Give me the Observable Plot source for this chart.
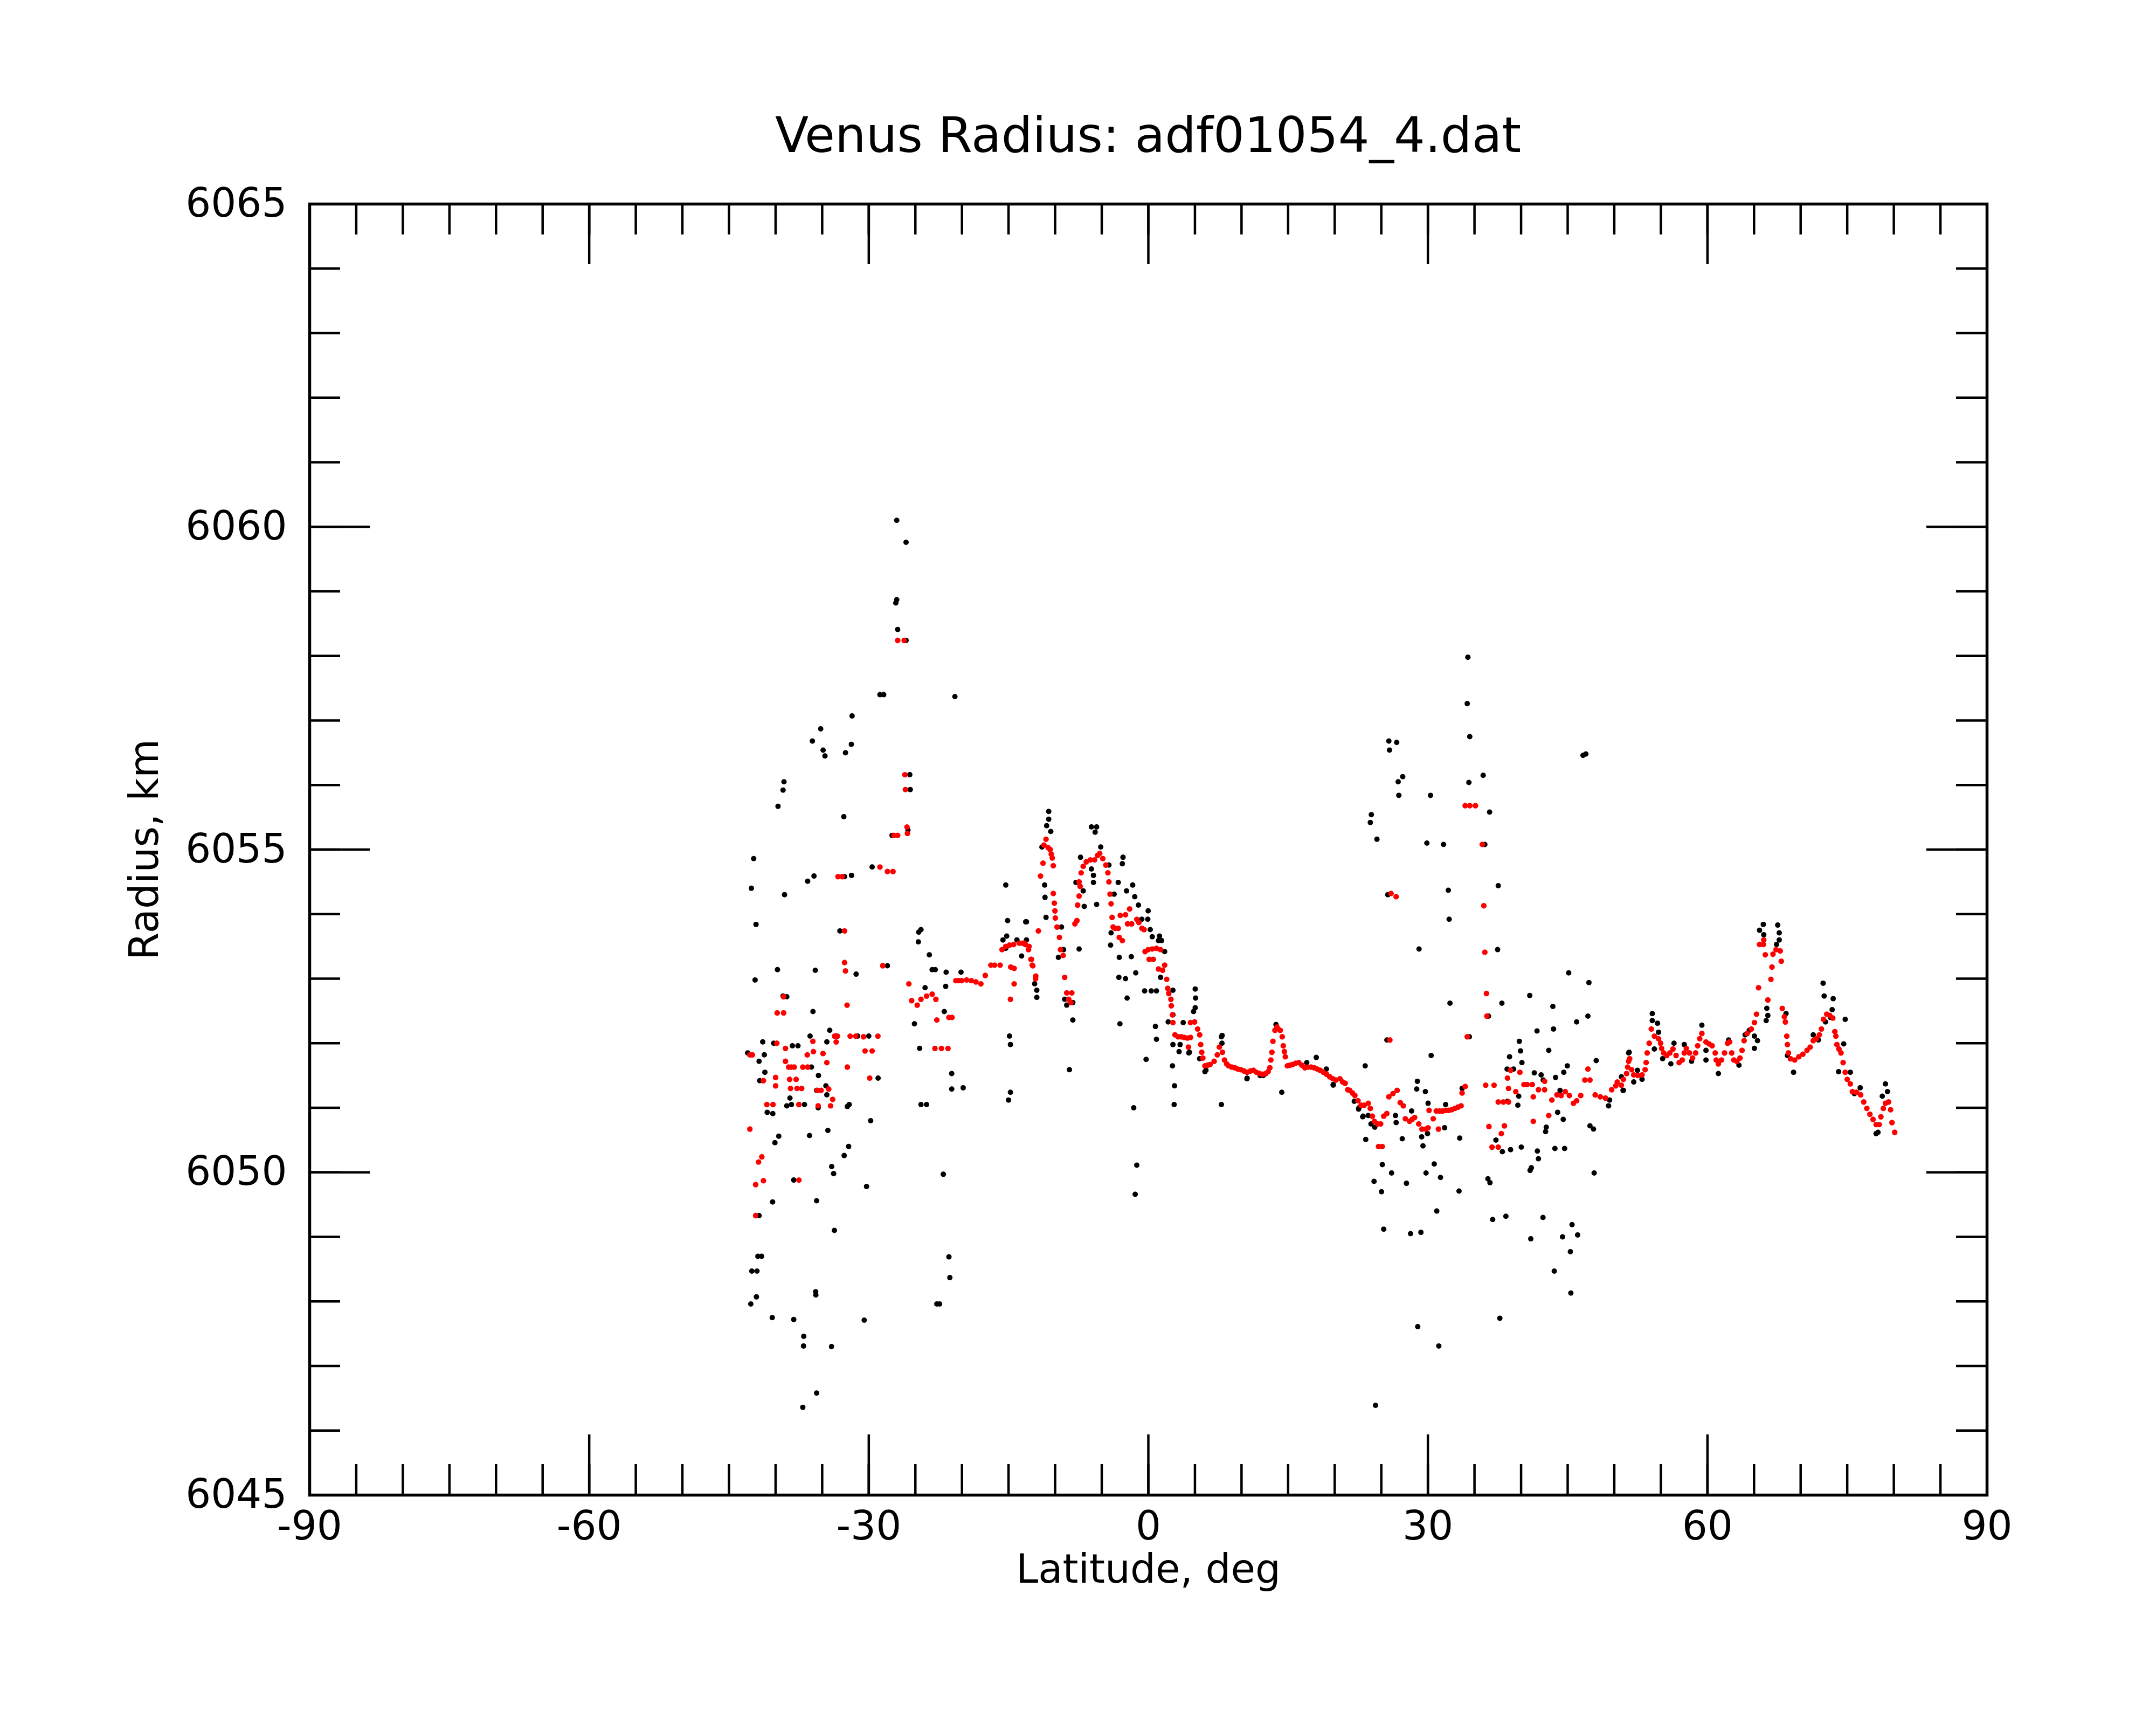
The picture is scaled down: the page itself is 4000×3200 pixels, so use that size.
<!DOCTYPE html>
<html><head><meta charset="utf-8">
<script src="https://cdn.jsdelivr.net/npm/d3@7"></script>
<script src="https://cdn.jsdelivr.net/npm/@observablehq/plot@0.6"></script>
<style>
body{margin:0;background:#fff;}
#title{width:4000px;height:300px;box-sizing:border-box;padding:205px 314px 0 574px;font-family:"DejaVu Sans";font-size:91px;line-height:1;text-align:center;color:#000;white-space:nowrap;}
</style></head>
<body>
<div id="title">Venus Radius: adf01054_4.dat</div>
<div id="chart"></div>
<script>
const titleText = "Venus Radius: adf01054_4.dat";
const xLabel = "Latitude, deg";
const yLabel = "Radius, km";
const xMajor = [-90, -60, -30, 0, 30, 60, 90];
const xMinor = d3.range(-85, 90, 5);
const yMajor = [6045, 6050, 6055, 6060, 6065];
const yMinor = d3.range(6046, 6065, 1);

// raw measurements (black): [latitude, radius]
const rawPoints = [
[-27.0,6060.1],[-26.0,6059.76],[-27.1,6058.82],[-27.0,6058.87],[-26.9,6058.41],[-26.0,6058.24],
[-28.8,6057.4],[-28.4,6057.4],[-20.76,6057.37],[-35.16,6056.87],[-36.05,6056.68],[-34.9,6056.54],[-34.7,6056.45],
[-31.79,6057.07],[-31.87,6056.63],[-32.5,6056.5],[-39.1,6056.05],[-39.2,6055.92],[-39.74,6055.67],
[-25.6,6056.16],[-25.55,6055.93],[-32.68,6055.51],[-27.5,6055.22],[-25.8,6055.3],
[-42.35,6054.86],[-42.6,6054.4],[-42.1,6053.84],[-42.2,6052.98],[-39.8,6053.14],[-36.56,6054.51],[-35.88,6054.59],[-39.04,6054.3],
[-32.6,6054.58],[-31.85,6054.6],[-29.64,6054.73],[-33.1,6053.74],[-35.74,6053.13],[-31.36,6053.07],[-28.0,6053.2],
[-24.64,6053.72],[-24.68,6053.57],[-15.3,6054.45],[-15.1,6053.9],[-15.2,6053.66],[-15.6,6053.6],[-15.3,6053.47],[-13.16,6053.88],[-14.1,6053.6],[-13.6,6053.35],
[-25.1,6052.3],[-24.54,6051.92],[-24.4,6051.05],[-23.8,6051.05],[-22.0,6049.97],[-21.4,6048.69],[-21.3,6048.37],[-22.7,6047.96],[-22.4,6047.96],
[-21.7,6053.1],[-21.75,6052.88],[-21.1,6051.53],[-21.1,6051.29],[-19.87,6051.31],[-20.1,6053.1],
[-23.2,6053.14],[-22.87,6053.14],[-23.5,6053.37],[-23.96,6052.86],[-21.9,6052.49],
[-14.9,6052.11],[-14.8,6051.98],[-14.8,6051.24],[-15.0,6051.12],
[-43.0,6051.85],[-41.77,6051.72],[-41.38,6052.02],[-41.21,6051.82],[-41.15,6051.55],[-41.7,6051.42],[-40.9,6050.93],[-40.3,6050.91],
[-39.2,6052.73],[-38.8,6052.72],[-40.2,6052.0],[-38.3,6051.05],[-38.8,6051.03],[-36.9,6051.05],[-38.46,6051.15],[-37.6,6051.96],[-38.2,6051.96],
[-36.15,6051.63],[-36.3,6052.11],[-35.99,6052.49],[-35.6,6051.27],[-34.6,6051.34],[-35.43,6051.0],[-34.5,6051.2],
[-34.19,6052.2],[-33.5,6052.11],[-34.5,6052.02],[-36.36,6050.57],[-40.07,6050.46],[-39.66,6050.56],[-34.39,6050.65],
[-32.64,6050.26],[-32.16,6050.4],[-33.98,6050.09],[-33.77,6049.98],[-31.2,6052.11],[-30.0,6052.11],[-29.0,6051.46],
[-32.1,6051.05],[-32.3,6051.02],[-29.8,6050.8],[-30.24,6049.78],[-30.49,6047.71],[-33.69,6049.1],[-35.6,6049.56],
[-35.7,6048.15],[-35.68,6048.1],[-36.98,6047.46],[-37.0,6047.31],[-34.0,6047.3],[-35.6,6046.58],[-37.08,6046.36],
[-38.05,6047.72],[-40.36,6047.75],[-40.32,6049.54],[-42.66,6047.96],[-42.06,6048.07],[-42.55,6048.47],[-42.0,6048.47],[-41.9,6048.7],[-41.5,6048.7],
[-41.77,6049.33],[-38.05,6049.88],[-24.4,6053.76],[-35.4,6051.5],
[-10.69,6055.59],[-10.69,6055.47],[-10.91,6055.37],[-10.47,6055.28],[-11.42,6055.04],[-11.13,6054.45],[-11.09,6054.26],[-10.98,6053.95],
[-9.32,6053.8],[-9.65,6053.33],[-9.1,6053.45],[-8.98,6052.68],[-8.76,6052.59],[-8.1,6052.63],[-8.1,6052.36],[-8.47,6051.59],
[-13.08,6053.88],[-13.08,6053.6],[-12.2,6052.92],[-11.97,6052.82],[-11.97,6052.71],
[-6.11,6055.35],[-5.55,6055.35],[-5.71,6055.27],[-5.11,6055.04],[-6.11,6054.7],[-5.89,6054.6],[-5.89,6054.49],[-5.55,6054.15],[-6.88,6054.12],[-7.43,6053.46],[-6.99,6054.36],[-7.77,6054.49],[-7.28,6054.88],[-4.23,6054.76],
[-2.72,6054.88],[-2.79,6054.78],[-3.23,6054.49],[-3.67,6054.31],[-2.34,6054.36],[-1.68,6054.45],[-1.46,6054.27],[-1.06,6054.14],[-4.0,6053.71],[-4.05,6053.52],[-3.12,6053.33],[-1.83,6053.34],[-3.16,6053.02],[-2.45,6053.0],[-1.35,6053.09],[-2.28,6052.7],[-3.05,6052.3],[-1.57,6051.0],[-1.24,6050.11],[-1.41,6049.66],
[-0.02,6054.05],[-0.06,6053.92],[-0.7,6053.92],[0.2,6053.76],[0.42,6053.65],[1.2,6053.66],[1.09,6053.59],[1.42,6053.59],[1.75,6053.42],[1.31,6053.02],[-0.4,6052.81],[0.31,6052.81],[0.87,6052.81],[-0.24,6051.75],[0.76,6052.26],[0.87,6052.06],[2.59,6051.65],[2.81,6051.34],[2.77,6051.05],[2.13,6052.33],[2.64,6052.44],[2.64,6052.82],[5.03,6052.84],[5.07,6052.7],[5.03,6052.55],[4.85,6052.49],[7.84,6051.05],[14.32,6051.24],[18.02,6051.78],[10.6,6051.46],[3.74,6052.32],[4.41,6051.86],[2.64,6051.98],[3.41,6051.98],[3.3,6051.87],[7.84,6052.1],[6.18,6051.58],[7.9,6052.0],[12.0,6051.5],[17.0,6051.7],
[4.34,6051.85],[5.5,6051.76],[6.07,6051.56],[7.92,6052.12],[10.58,6051.45],[12.32,6051.5],[13.7,6052.29],[19.1,6051.6],[19.84,6051.35],[22.56,6050.98],[23.0,6050.86],[23.89,6050.75],[29.33,6050.55],[29.96,6050.6],
[34.29,6057.98],[34.22,6057.26],[34.49,6056.75],[34.4,6056.04],[35.93,6056.15],[36.62,6055.58],[37.55,6054.44],[37.48,6053.45],[37.94,6052.62],[36.11,6055.08],[36.5,6052.42],[34.45,6052.1],
[25.81,6056.68],[26.65,6056.66],[25.88,6056.54],[27.3,6056.13],[26.81,6056.05],[26.88,6055.84],[23.93,6055.54],[23.82,6055.42],[24.53,6055.16],[30.28,6055.84],[29.89,6055.1],[31.68,6055.08],[32.19,6054.37],[32.28,6053.92],[29.05,6053.46],[32.37,6052.62],[30.35,6051.81],[23.27,6051.65],[25.7,6054.3],[25.6,6052.05],
[19.84,6051.36],[22.6,6051.0],[23.05,6050.87],[23.6,6050.88],[23.33,6050.51],[24.22,6049.86],[25.02,6049.7],[25.11,6050.12],[26.1,6049.99],[25.26,6049.12],[26.52,6050.88],[26.59,6050.77],[27.25,6050.52],[27.7,6049.83],[28.14,6049.05],[29.25,6049.07],[28.91,6047.61],[24.38,6046.39],[28.25,6050.95],[28.87,6051.41],[28.8,6051.29],[29.73,6051.25],[30.02,6051.07],[29.47,6050.41],[29.8,6049.99],[30.68,6050.13],[30.95,6049.4],[31.35,6049.92],[31.17,6047.31],[31.79,6050.69],[31.9,6051.05],[33.34,6049.71],[33.41,6050.53],[33.67,6051.3],[24.3,6050.7],[22.1,6051.1],
[38.76,6051.79],[38.5,6051.6],[39.2,6051.6],[39.81,6052.03],[39.94,6051.88],[40.09,6051.7],[40.93,6052.74],[41.71,6052.19],[41.42,6051.54],[42.15,6051.51],[42.37,6051.43],[43.41,6052.57],[43.48,6052.22],[42.97,6051.89],[43.7,6051.47],[44.18,6051.27],[44.58,6051.55],[44.96,6051.65],[45.11,6053.09],[45.96,6052.33],[47.28,6052.94],[47.17,6052.42],[48.06,6051.73],[46.65,6056.46],[46.95,6056.48],[51.6,6051.86],[38.54,6051.1],[39.65,6051.04],[39.75,6051.18],[37.99,6050.32],[38.87,6050.35],[40.02,6050.39],[41.75,6050.33],[41.86,6050.21],[40.97,6050.03],[41.1,6050.07],[42.63,6050.63],[42.7,6050.7],[43.92,6050.93],[44.52,6050.82],[43.63,6050.37],[44.67,6050.37],[47.39,6050.72],[47.77,6050.67],[47.84,6049.99],[49.39,6051.03],[45.47,6049.19],[46.07,6049.03],[44.45,6049.0],[45.29,6048.77],[45.34,6048.13],[43.56,6048.47],[42.35,6049.3],[41.04,6048.97],[38.37,6049.32],[36.95,6049.27],[37.72,6047.74],[36.44,6049.9],[36.66,6049.84],[50.94,6051.27],[49.5,6051.12],[37.3,6050.5],
[65.99,6053.84],[65.59,6053.75],[66.04,6053.68],[67.54,6053.83],[67.7,6053.71],[67.7,6053.6],[67.41,6053.53],[66.37,6052.54],[66.48,6052.43],[66.3,6052.35],[65.04,6052.11],[65.37,6052.04],[65.04,6051.92],[64.49,6052.2],[64.04,6052.13],[63.38,6051.66],[62.27,6052.05],[61.17,6051.53],[59.84,6051.74],[59.84,6051.89],[59.4,6052.28],[57.51,6051.98],[58.29,6051.72],[56.41,6052.0],[56.07,6051.68],[55.19,6051.76],[54.3,6051.91],[54.75,6052.17],[54.64,6052.31],[54.08,6052.46],[54.08,6052.35],[52.98,6051.44],[52.09,6051.4],[52.49,6051.58],[51.54,6051.85],[50.98,6051.27],[50.76,6051.48],[69.24,6051.55],[68.58,6051.81],[68.43,6052.46],[72.41,6052.93],[72.52,6052.73],[73.49,6052.69],[73.38,6052.52],[74.78,6052.37],[74.62,6051.99],[74.07,6051.56],[75.33,6051.55],[75.77,6051.22],[76.39,6051.31],[78.1,6050.6],[78.3,6050.62],[79.1,6051.37],[79.32,6051.25],[78.76,6051.18],[71.35,6052.13],[71.9,6052.05],[72.67,6052.33],[73.2,6052.4]
];

// filtered / smoothed measurements (red): [latitude, radius]
const smoothPoints = [
[-26.9,6058.24],[-26.2,6058.24],[-26.13,6056.16],[-26.07,6055.93],[-27.3,6055.22],[-26.9,6055.22],[-25.9,6055.35],[-25.85,6055.25],
[-33.3,6054.58],[-32.85,6054.58],[-28.8,6054.73],[-28.0,6054.66],[-27.4,6054.66],[-32.6,6053.74],[-32.6,6053.25],[-32.5,6053.12],[-28.5,6053.2],
[-25.7,6052.92],[-25.4,6052.66],[-24.8,6052.59],[-24.4,6052.68],[-23.8,6052.73],[-23.2,6052.76],[-22.8,6052.68],
[-20.66,6052.97],[-20.35,6052.97],[-20.04,6052.97],[-19.5,6052.98],[-19.0,6052.97],[-18.5,6052.95],[-17.97,6052.92],[-17.5,6053.05],[-16.9,6053.21],[-16.5,6053.21],[-15.9,6053.21],[-15.7,6053.45],[-15.3,6053.5],[-14.9,6053.52],[-14.46,6053.53],[-13.84,6053.55],[-13.5,6053.55],[-13.2,6053.53],[-12.8,6053.5],[-12.6,6053.3],[-12.4,6053.2],[-12.1,6053.0],
[-14.77,6053.18],[-14.4,6053.16],[-14.8,6052.68],[-14.4,6052.92],[-11.8,6053.74],
[-22.9,6051.92],[-22.2,6051.92],[-21.5,6051.92],[-21.07,6052.4],[-21.4,6052.4],[-22.7,6052.36],
[-42.76,6051.82],[-42.5,6051.82],[-41.31,6051.42],[-40.94,6051.05],[-40.28,6051.05],[-40.0,6051.47],[-40.0,6051.34],[-39.83,6052.47],[-39.14,6052.47],[-39.15,6052.72],[-39.87,6052.0],[-38.94,6051.92],[-38.94,6051.72],[-38.6,6051.63],[-38.3,6051.63],[-38.0,6051.63],[-38.5,6051.44],[-37.8,6051.44],[-38.4,6051.3],[-37.7,6051.3],[-37.2,6051.3],[-37.5,6051.05],
[-37.08,6051.63],[-36.56,6051.63],[-35.94,6051.87],[-36.6,6051.82],[-36.0,6052.03],[-35.53,6051.27],[-35.12,6051.27],[-35.43,6051.03],[-34.91,6051.84],[-34.5,6051.7],[-34.3,6051.29],[-33.88,6051.13],[-34.1,6051.03],[-33.67,6052.11],[-33.36,6052.11],[-33.5,6052.02],
[-32.3,6051.63],[-32.33,6052.59],[-32.0,6052.11],[-31.4,6052.11],[-30.57,6052.1],[-29.64,6051.88],[-30.4,6051.88],[-29.02,6052.11],[-29.9,6051.46],
[-42.14,6049.33],[-42.14,6049.81],[-41.3,6049.87],[-41.83,6050.16],[-41.48,6050.24],[-42.76,6050.67],[-37.5,6049.88],
[-10.98,6055.16],[-11.2,6055.07],[-10.75,6055.03],[-10.53,6055.0],[-10.42,6054.93],[-10.31,6054.87],[-10.2,6054.75],[-11.3,6054.79],[-11.57,6054.59],
[-10.2,6054.32],[-10.09,6054.17],[-10.02,6054.05],[-9.98,6053.94],[-9.8,6053.8],[-9.54,6053.64],[-9.43,6053.45],[-9.14,6053.36],[-8.98,6053.02],[-8.76,6052.78],[-8.21,6052.78],[-8.54,6052.68],[-8.32,6052.63],
[-13.3,6053.55],[-12.86,6053.45],[-12.53,6053.3],[-12.46,6053.21],[-12.08,6053.04],
[-7.88,6053.85],[-7.66,6053.9],[-7.59,6054.14],[-7.43,6054.28],[-7.32,6054.43],[-7.43,6054.5],[-7.21,6054.64],[-6.99,6054.74],[-6.66,6054.81],[-6.22,6054.84],[-5.77,6054.84],[-5.44,6054.91],[-5.22,6054.94],[-4.89,6054.86],[-4.56,6054.76],[-4.34,6054.64],[-4.23,6054.5],[-4.11,6054.31],[-4.0,6054.16],[-3.89,6053.95],[-3.78,6053.8],[-3.56,6053.78],[-3.23,6053.78],[-3.12,6053.64],[-2.79,6053.59],
[-3.01,6053.98],[-2.45,6053.99],[-2.01,6054.08],[-2.23,6053.85],[-1.79,6053.85],[-1.24,6053.92],[-1.02,6053.87],[-0.69,6053.78],[-0.46,6053.76],
[-0.35,6053.42],[-0.02,6053.45],[0.42,6053.46],[0.87,6053.47],[1.31,6053.45],[0.09,6053.3],[0.53,6053.3],[1.09,6053.15],[1.53,6053.13],[1.75,6053.21],[1.97,6052.99],[2.08,6052.85],[2.19,6052.77],[2.42,6052.68],[2.46,6052.58],[2.59,6052.44],[2.64,6052.32],[2.86,6052.13],[3.2,6052.1],[3.52,6052.1],[3.85,6052.09],[4.19,6052.08],[4.52,6052.09],[4.3,6051.94],[4.52,6052.32],[4.96,6052.33],[5.29,6052.22],[5.51,6052.13],[5.62,6051.98],[5.73,6051.86],[5.85,6051.77],[6.07,6051.65],[6.35,6051.66],[6.62,6051.67],[7.06,6051.72],[7.4,6051.82],[7.62,6051.94],[7.95,6051.86],[8.17,6051.74],[8.4,6051.68],[8.61,6051.65],[8.95,6051.63],[9.28,6051.62],[9.6,6051.6],[9.94,6051.59],[10.27,6051.57],[10.6,6051.55],[10.95,6051.57],[11.27,6051.58],[11.6,6051.55],[11.93,6051.53],[12.27,6051.52],[12.6,6051.53],[12.85,6051.56],[13.04,6051.62],[13.15,6051.74],[13.26,6051.86],[13.37,6052.03],[13.59,6052.2],[13.81,6052.25],[14.15,6052.2],[14.37,6052.1],[14.48,6051.96],[14.6,6051.87],[14.7,6051.79],[14.92,6051.65],[15.2,6051.66],[15.47,6051.67],[15.8,6051.69],[16.14,6051.7],[16.47,6051.66],[16.8,6051.62],[17.13,6051.63],[17.47,6051.63],[17.8,6051.62],[18.13,6051.6],[18.45,6051.58],[18.79,6051.55],[19.12,6051.52],[19.46,6051.48],[19.8,6051.45],[20.12,6051.43],[20.56,6051.45],[20.85,6051.4],[21.12,6051.38],[21.4,6051.28],
[34.0,6055.68],[35.1,6055.68],[34.5,6055.68],[35.84,6055.08],[36.0,6054.13],[36.11,6053.41],[36.28,6052.77],[36.33,6052.42],[34.22,6052.1],[26.04,6054.32],[26.59,6054.27],[25.92,6052.05],
[21.61,6051.27],[21.9,6051.23],[22.16,6051.19],[22.5,6051.11],[22.83,6051.04],[23.16,6051.04],[23.6,6051.07],[23.82,6050.99],[24.04,6050.87],[24.26,6050.79],[24.6,6050.75],[24.93,6050.75],[25.26,6050.87],[25.59,6050.91],[24.7,6050.4],[25.1,6050.4],[25.81,6051.17],[26.25,6051.22],[26.7,6051.27],[27.03,6051.08],[27.36,6051.03],[27.58,6050.83],[28.03,6050.79],[28.3,6050.82],[28.58,6050.85],[29.02,6050.75],[29.36,6050.67],[29.8,6050.67],[30.02,6050.69],[30.13,6050.96],[30.57,6050.83],[31.13,6050.67],[30.9,6050.95],[31.25,6050.95],[31.57,6050.95],[31.9,6050.96],[32.23,6050.96],[32.55,6050.97],[32.9,6050.99],[33.23,6051.01],[33.56,6051.03],[33.67,6051.23],[34.0,6051.33],
[36.2,6051.35],[37.1,6051.35],[36.55,6050.71],[36.88,6050.39],[37.55,6050.39],[37.88,6050.6],[38.21,6050.72],[37.55,6051.09],[38.1,6051.09],[38.65,6051.09],[38.65,6051.3],[38.54,6051.46],[38.87,6051.58],[39.43,6051.25],[39.87,6051.55],[40.31,6051.36],[40.64,6051.36],[41.2,6051.36],[41.31,6051.17],[41.31,6050.79],[41.86,6051.28],[42.52,6051.28],[42.97,6050.88],[42.52,6051.41],[43.3,6051.12],[43.85,6051.2],[44.3,6051.19],[44.74,6051.25],[45.18,6051.19],[45.62,6051.07],[45.96,6051.11],[46.4,6051.19],[46.84,6051.43],[47.17,6051.6],[47.39,6051.43],[47.95,6051.2],[48.5,6051.17],[49.05,6051.15],[49.72,6051.28],[50.16,6051.34],
[50.32,6051.4],[50.76,6051.35],[50.98,6051.44],[51.32,6051.53],[51.43,6051.63],[51.54,6051.72],[51.65,6051.76],[51.87,6051.59],[52.09,6051.51],[52.53,6051.5],[52.98,6051.51],[53.31,6051.59],[53.42,6051.7],[53.53,6051.85],[53.75,6052.0],[53.97,6052.22],[54.3,6052.11],[54.75,6052.07],[54.97,6052.0],[55.08,6051.92],[55.3,6051.85],[55.63,6051.81],[55.96,6051.85],[56.3,6051.91],[56.63,6051.81],[56.96,6051.7],[57.29,6051.74],[57.51,6051.85],[57.73,6051.92],[58.07,6051.85],[58.4,6051.77],[58.73,6051.85],[58.95,6051.96],[59.17,6052.07],[59.4,6052.15],[59.84,6052.02],[60.17,6051.99],[60.5,6051.96],[60.83,6051.85],[60.94,6051.74],[61.17,6051.68],[61.5,6051.74],[61.83,6051.85],[62.16,6052.0],[62.38,6052.02],[62.6,6051.85],[62.83,6051.74],[63.16,6051.72],[63.49,6051.77],[63.71,6051.89],[63.93,6052.04],[64.26,6052.15],[64.71,6052.22],[65.04,6052.32],[65.26,6052.45],[65.48,6052.86],[65.59,6053.53],[66.04,6053.6],[66.0,6053.53],[66.21,6053.37],[66.48,6052.67],[66.81,6052.99],[66.92,6053.18],[67.03,6053.38],[67.36,6053.45],[67.81,6053.43],[67.92,6053.27],[68.03,6052.54],[68.25,6052.41],[68.36,6052.33],[68.51,6052.11],[68.58,6051.98],[68.69,6051.85],[68.91,6051.76],[69.36,6051.74],[69.8,6051.79],[70.24,6051.83],[70.68,6051.89],[71.02,6051.94],[71.35,6052.04],[71.68,6052.07],[72.01,6052.13],[72.23,6052.22],[72.45,6052.37],[72.79,6052.45],[73.12,6052.43],[73.45,6052.39],[73.67,6052.18],[73.78,6052.11],[73.89,6051.98],[74.11,6051.91],[74.33,6051.85],[74.56,6051.7],[74.78,6051.55],[75.0,6051.44],[75.33,6051.37],[75.55,6051.25],[76.0,6051.24],[76.44,6051.2],[76.77,6051.09],[77.1,6050.99],[77.43,6050.9],[77.77,6050.82],[78.1,6050.74],[78.43,6050.74],[78.61,6050.86],[78.87,6050.99],[79.1,6051.07],[79.43,6051.09],[79.65,6050.97],[79.8,6050.77],[80.09,6050.62]
];

const FW = 3112, FH = 2395;
const font = "DejaVu Sans";
const ink = "black";

const chart = Plot.plot({
  width: 4000,
  height: 2900,
  marginLeft: 574,
  marginRight: 314,
  marginTop: 78,
  marginBottom: 427,
  x: {domain: [-90, 90]},
  y: {domain: [6045, 6065]},
  style: {fontFamily: font, fontSize: "74px", background: "white", color: ink, overflow: "visible"},
  marks: [
    Plot.dot(rawPoints, {x: d => d[0], y: d => d[1], r: 5, fill: ink}),
    Plot.dot(smoothPoints, {x: d => d[0], y: d => d[1], r: 5.2, fill: "#ff0000"}),
    Plot.frame({stroke: ink, strokeWidth: 5.5}),
    Plot.tickX(xMinor, {insetTop: FH - 57, stroke: ink, strokeWidth: 4.5}),
    Plot.tickX(xMinor, {insetBottom: FH - 57, stroke: ink, strokeWidth: 4.5}),
    Plot.tickX(xMajor, {insetTop: FH - 112, stroke: ink, strokeWidth: 4.5}),
    Plot.tickX(xMajor, {insetBottom: FH - 112, stroke: ink, strokeWidth: 4.5}),
    Plot.tickY(yMinor, {insetRight: FW - 57, stroke: ink, strokeWidth: 4.5}),
    Plot.tickY(yMinor, {insetLeft: FW - 57, stroke: ink, strokeWidth: 4.5}),
    Plot.tickY(yMajor, {insetRight: FW - 112, stroke: ink, strokeWidth: 4.5}),
    Plot.tickY(yMajor, {insetLeft: FW - 112, stroke: ink, strokeWidth: 4.5}),
    Plot.axisX({ticks: xMajor, tickSize: 0, tickPadding: 30, tickFormat: d => String(d), fontSize: 74, label: null}),
    Plot.axisY({ticks: yMajor, tickSize: 0, tickPadding: 42, tickFormat: d => String(d), fontSize: 74, label: null}),
    Plot.text([xLabel], {text: d => d, frameAnchor: "bottom", textAnchor: "middle", lineAnchor: "bottom", dy: 162, fontSize: 74, fill: ink}),
    Plot.text([yLabel], {text: d => d, frameAnchor: "left", textAnchor: "middle", rotate: -90, lineAnchor: "bottom", dx: -282, fontSize: 74, fill: ink})
  ]
});
document.getElementById("title").textContent = titleText;
document.getElementById("chart").appendChild(chart);
</script>
</body></html>
